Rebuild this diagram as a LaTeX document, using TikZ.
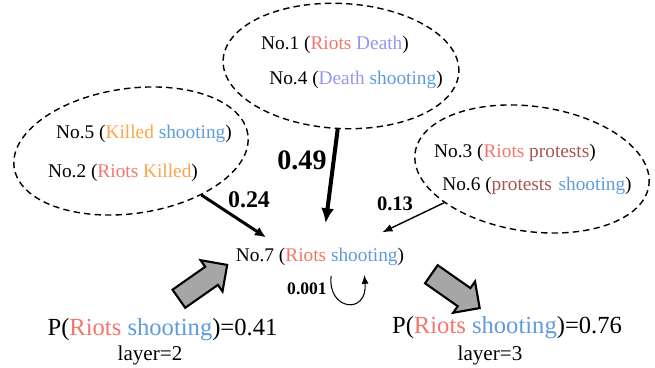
\documentclass[tikz,border=0pt]{standalone}
\usepackage{fontspec}
\setmainfont{Liberation Serif}
\usetikzlibrary{arrows.meta,positioning,shapes.geometric,shapes.arrows}

\definecolor{riotsred}{RGB}{242,118,108}
\definecolor{deathblue}{RGB}{150,150,240}
\definecolor{shootblue}{RGB}{95,155,220}
\definecolor{killedorange}{RGB}{250,165,75}
\definecolor{protestbrown}{RGB}{165,85,80}
\definecolor{arrowgray}{RGB}{166,166,166}

\newcommand{\wRiots}{\textcolor{riotsred}{Riots}}
\newcommand{\wDeath}{\textcolor{deathblue}{Death}}
\newcommand{\wShooting}{\textcolor{shootblue}{shooting}}
\newcommand{\wKilled}{\textcolor{killedorange}{Killed}}
\newcommand{\wProtests}{\textcolor{protestbrown}{protests}}

\begin{document}
\begin{tikzpicture}[
    group/.style={draw, ellipse, dash pattern=on 3.6pt off 2.4pt, line width=0.8pt,
                  minimum width=4.72cm, minimum height=2.5cm},
    lbl/.style={inner sep=1pt, font=\fontsize{11}{13}\selectfont},
    wt/.style={inner sep=1pt, font=\bfseries\fontsize{#1}{#1}\selectfont},
    prob/.style={inner sep=1pt, font=\fontsize{14}{16}\selectfont},
    layer/.style={inner sep=1pt, font=\fontsize{12}{14}\selectfont},
    heavy/.style={-{Latex[length=3mm, width=2.6mm]}, line width=2.3pt},
    medium/.style={-{Latex[length=2.2mm, width=2mm]}, line width=1.7pt},
    light/.style={-{Latex[length=2mm, width=1.6mm]}, line width=0.8pt},
    loopy/.style={-{Latex[length=1.8mm, width=1.4mm]}, line width=0.6pt},
    bigarrow/.style={single arrow, draw, fill=arrowgray, line width=1.2pt,
                     inner xsep=0pt, inner ysep=0.2cm, minimum height=1.18cm,
                     single arrow head extend=0.16cm}
  ]
    \useasboundingbox (0,0) rectangle (13.1,7.36);

    % word groups
    \node[group, rotate=-3] (grpDeath) at (6.82,6.04) {};
    \node[group, rotate=8] (grpKilled) at (2.62,4.34) {};
    \node[group, rotate=-8] (grpProtest) at (10.64,3.98) {};

    \node[lbl] (no1) at (6.70,6.46) {No.1 (\wRiots{} \wDeath)};
    \node[lbl] (no4) at (7.12,5.76) {No.4 (\wDeath{} \wShooting)};
    \node[lbl] (no5) at (2.88,4.68) {No.5 (\wKilled{} \wShooting)};
    \node[lbl] (no2) at (2.46,3.90) {No.2 (\wRiots{} \wKilled)};
    \node[lbl] (no3) at (10.30,4.30) {No.3 (\wRiots{} \wProtests)};
    \node[lbl] (no6) at (10.74,3.64) {No.6 (\wProtests\hspace{0.35em}\wShooting)};
    \node[lbl] (no7) at (6.40,2.22) {No.7 (\wRiots{} \wShooting)};

    % weights
    \node[wt=16] (w49) at (6.04,4.16) {0.49};
    \node[wt=13.6] (w24) at (4.98,3.36) {0.24};
    \node[wt=11.7] (w13) at (7.90,3.28) {0.13};
    \node[wt=10] (w001) at (6.14,1.58) {0.001};

    \draw[heavy, shorten >=0.46cm] (grpDeath.south) -- (no7.76);
    \draw[medium, shorten >=0.32cm] (grpKilled.-40) -- (no7.165);
    \draw[light, shorten >=0.64cm] (grpProtest.209) -- (no7.18);
    \draw[loopy, shorten <=0.16cm, shorten >=0.14cm] (no7.-42)
      .. controls +(-0.1,-0.85) and +(0.08,-0.95) .. (no7.-14);

    % layers
    \node[bigarrow, rotate=35] (upArr) at (3.97,1.66) {};
    \node[bigarrow, rotate=-35] (downArr) at (9.02,1.60) {};

    \node[prob] (probL) at (3.25,0.76) {P(\wRiots{} \wShooting)=0.41};
    \node[layer] (layerL) at (3.00,0.26) {layer=2};
    \node[prob] (probR) at (10.14,0.80) {P(\wRiots{} \wShooting)=0.76};
    \node[layer] (layerR) at (9.80,0.26) {layer=3};
  \end{tikzpicture}
\end{document}
